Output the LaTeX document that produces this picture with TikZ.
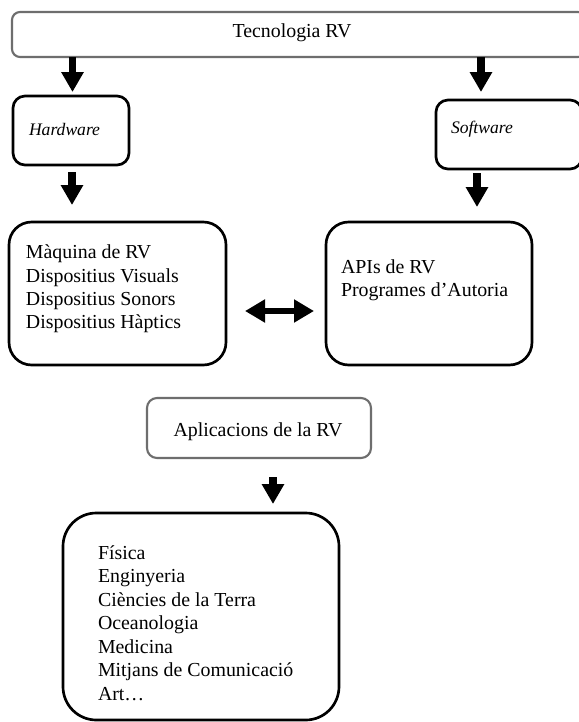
\documentclass[tikz,border=0pt]{standalone}
\usepackage{fontspec}
\setmainfont{Liberation Serif}
\usetikzlibrary{arrows.meta,fit,calc}

\definecolor{framegray}{RGB}{110,110,110}

\tikzset{
  boxbase/.style={inner sep=0pt, outer sep=0pt, fill=white},
  graybox/.style={boxbase, draw=framegray, line width=1.6pt},
  blackbox/.style={boxbase, draw=black, line width=2pt},
  label/.style={inner sep=0pt, outer sep=0pt, font=\fontsize{14.9}{17.6}\selectfont},
  itlabel/.style={inner sep=0pt, outer sep=0pt, font=\fontsize{13.2}{16}\selectfont\itshape},
  listlabel/.style={label, align=left, anchor=west},
  blockarrow/.style={draw=black, line width=5.8pt, -{Triangle[width=16pt,length=15pt]}},
  twoway/.style={draw=black, line width=4.6pt, {Triangle[width=16.5pt,length=15pt]}-{Triangle[width=16.5pt,length=15pt]}}
}

\begin{document}
\begin{tikzpicture}[x=0.75pt, y=-0.75pt]
  \clip (0,0) rectangle (579,722);
  \fill[white] (0,0) rectangle (579,722);

  % frames
  \node[graybox, rounded corners=6pt, fit={(12,12) (586,57)}] (tech) {};
  \node[blackbox, rounded corners=9pt, fit={(13,96) (129,165)}] (hw) {};
  \node[blackbox, rounded corners=9pt, fit={(436,100) (582,169)}] (sw) {};
  \node[blackbox, rounded corners=17pt, fit={(9,222) (226,365)}] (mach) {};
  \node[blackbox, rounded corners=17pt, fit={(326,222) (532,365)}] (apis) {};
  \node[graybox, rounded corners=7.5pt, fit={(147,398) (371,458)}] (apl) {};
  \node[blackbox, rounded corners=25pt, fit={(63,513) (339,720)}] (apps) {};

  % texts
  \node[label] (techT) at (292,33) {Tecnologia RV};
  \node[itlabel, anchor=west] (hwT) at (29,129) {Hardware};
  \node[itlabel, anchor=west] (swT) at (451,129) {Software};
  \node[listlabel] (machT) at (26,289) {Màquina de RV\\Dispositius Visuals\\Dispositius Sonors\\Dispositius Hàptics};
  \node[listlabel] (apisT) at (341,280) {APIs de RV\\Programes d’Autoria};
  \node[label] (aplT) at (258,432) {Aplicacions de la RV};
  \node[listlabel] (appsT) at (98,623) {Física\\Enginyeria\\Ciències de la Terra\\Oceanologia\\Medicina\\Mitjans de Comunicació\\Art…};

  % arrow columns
  \coordinate (c1) at (72.5,0);
  \coordinate (c2) at (481,0);
  \coordinate (c3) at (72,0);
  \coordinate (c4) at (477,0);
  \coordinate (c5) at (273,0);
  \coordinate (r1) at (0,311);

  % connectors
  \draw[blockarrow, shorten >=3pt] (tech.south -| c1) -- (hw.north -| c1);
  \draw[blockarrow, shorten >=6pt] (tech.south -| c2) -- (sw.north -| c2);
  \draw[blockarrow, shorten <=5.25pt, shorten >=12.75pt] (hw.south -| c3) -- (mach.north -| c3);
  \draw[blockarrow, shorten <=3pt, shorten >=11.25pt] (sw.south -| c4) -- (apis.north -| c4);
  \draw[twoway, shorten <=14.25pt, shorten >=9pt] (mach.east |- r1) -- (apis.west |- r1);
  \draw[blockarrow, shorten <=14.25pt, shorten >=6.75pt] (apl.south -| c5) -- (apps.north -| c5);
\end{tikzpicture}
\end{document}
